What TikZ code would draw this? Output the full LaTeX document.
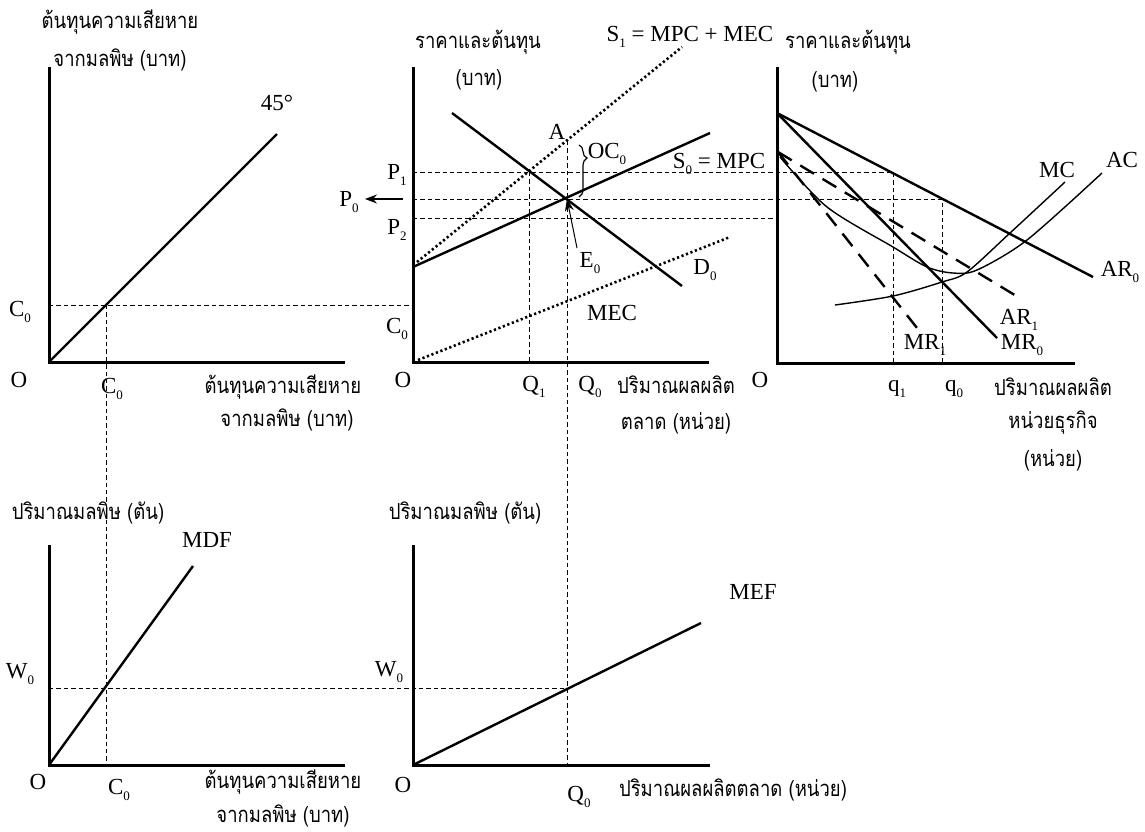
\documentclass[tikz,border=0pt]{standalone}
\usepackage{fontspec}
\setmainfont{Liberation Serif}
\newfontfamily\thaifont[Script=Thai,FakeStretch=0.84]{Loma}
\usetikzlibrary{arrows.meta,decorations.pathreplacing}
\newcommand{\ix}[1]{\raisebox{-3pt}{\fontsize{6.5}{6.5}\selectfont #1}}
\tikzset{
 axis/.style={line width=1.5pt},
 curve/.style={line width=1.2pt},
 fine/.style={line width=0.7pt},
 guide/.style={line width=0.5pt,dash pattern=on 2.2pt off 1.5pt},
 dots/.style={line width=1.3pt,dash pattern=on 1.1pt off 1.3pt},
 longdash/.style={line width=1.2pt,dash pattern=on 8pt off 5pt},
 lbl/.style={inner sep=0pt,font=\fontsize{11.5}{12}\selectfont},
 th/.style={inner sep=0pt,font=\thaifont\fontsize{11}{12}\selectfont}
}
\begin{document}
\begin{tikzpicture}[x=0.5pt,y=-0.5pt,=>stealth]
\useasboundingbox (0,0) rectangle (1145,831);
% key points
\coordinate (Oa) at (49,362);  \coordinate (Ob) at (413,362);  \coordinate (Oc) at (777,363);
\coordinate (Od) at (49,765);  \coordinate (Oe) at (413,765);
\coordinate (Ca) at (106,305); \coordinate (Cb) at (413,305); \coordinate (Cd) at (106,765);
\coordinate (A) at (567,141);  \coordinate (E) at (567,199);   \coordinate (Qone) at (529,172);
\coordinate (Qb) at (529,362); \coordinate (Qe) at (567,765);
\coordinate (qa) at (893,172); \coordinate (qb) at (942,199);
\coordinate (Wd) at (49,688);  \coordinate (We) at (567,688);
\coordinate (Rt) at (777,113); \coordinate (Rs) at (778,152);
% axes
\draw[axis](49,67)--(Oa)--(345,362);
\draw[axis](413,67)--(Ob)--(709,362);
\draw[axis](777,67)--(Oc)--(1075,363);
\draw[axis](49,545)--(Od)--(345,765);
\draw[axis](413,545)--(Oe)--(710,765);
% guides
\draw[guide](49,305)--(Cb);
\draw[guide](Ca)--(Cd);
\draw[guide](A)--(Qe);
\draw[guide](Qone)--(Qb);
\draw[guide](413,172)--(qa)--(893,363);
\draw[guide](413,199)--(qb)--(942,363);
\draw[guide](413,218)--(777,218);
\draw[guide](Wd)--(We);
% curves
\draw[curve](Oa)--(277,134);
\draw[curve](452,113)--(682,286);
\draw[curve](413,267)--(710,133);
\draw[dots](417,262)--(682,47);
\draw[dots](418,360)--(730,237);
\draw[curve](Rt)--(1093,277);
\draw[curve](Rt)--(997,338);
\draw[longdash](Rs)--(1018,297);
\draw[longdash](Rs)--(921,333);
\draw[fine]plot[smooth]coordinates{(780,157)(827,207)(893,247)(927,267)(953,273)(977,270)(1027,240)(1102,173)};
\draw[fine]plot[smooth]coordinates{(835,305)(893,296)(942,282)(967,272)(1010,233)(1065,182)};
\draw[curve](Od)--(193,566);
\draw[curve](Oe)--(701,623);
% arrows and brace
\draw[-{Stealth[length=6pt,width=4.5pt]},line width=0.6pt](403,199)--(365,199);
\draw[-{Stealth[length=6pt,width=4.5pt]},line width=0.5pt](577,248)--(E);
\draw[line width=0.6pt,decorate,decoration={brace,amplitude=4pt,aspect=0.25}](579,145)--(579,197);
% labels, top left
\draw(120,22)node[th](ta1){ต้นทุนความเสียหาย}
(120,60)node[th](ta2){จากมลพิษ (บาท)}
(277,103)node[lbl](l45){45°}
(20,312)node[lbl](lCa){C\ix{0}}
(19,380)node[lbl](lOa){O}
(112,389)node[lbl](lCx){C\ix{0}}
(283,387)node[th](xa1){ต้นทุนความเสียหาย}
(287,420)node[th](xa2){จากมลพิษ (บาท)};
% labels, top middle
\draw(478,42)node[th](tb1){ราคาและต้นทุน}
(479,80)node[th](tb2){(บาท)}
(690,37)node[lbl](lS1){S\ix{1} = MPC + MEC}
(557,132)node[lbl](lA){A}
(607,154)node[lbl](lOC){OC\ix{0}}
(719,164)node[lbl](lS0){S\ix{0} = MPC}
(397,175)node[lbl](lP1){P\ix{1}}
(349,202)node[lbl](lP0){P\ix{0}}
(397,230)node[lbl](lP2){P\ix{2}}
(590,263)node[lbl](lE){E\ix{0}}
(705,270)node[lbl](lD){D\ix{0}}
(612,313)node[lbl](lMEC){MEC}
(397,329)node[lbl](lCb){C\ix{0}}
(403,380)node[lbl](lOb){O}
(534,387)node[lbl](lQ1){Q\ix{1}}
(590,387)node[lbl](lQ0){Q\ix{0}}
(676,385)node[th](xb1){ปริมาณผลผลิต}
(676,423)node[th](xb2){ตลาด (หน่วย)};
% labels, top right
\draw(848,42)node[th](tc1){ราคาและต้นทุน}
(835,82)node[th](tc2){(บาท)}
(1057,170)node[lbl](lMC){MC}
(1122,160)node[lbl](lAC){AC}
(1120,272)node[lbl](lAR0){AR\ix{0}}
(1019,320)node[lbl](lAR1){AR\ix{1}}
(925,345)node[lbl](lMR1){MR\ix{1}}
(1022,345)node[lbl](lMR0){MR\ix{0}}
(760,380)node[lbl](lOc){O}
(897,389)node[lbl](lq1){q\ix{1}}
(954,389)node[lbl](lq0){q\ix{0}}
(1053,387)node[th](xc1){ปริมาณผลผลิต}
(1053,423)node[th](xc2){หน่วยธุรกิจ}
(1053,460)node[th](xc3){(หน่วย)};
% labels, bottom
\draw(88,513)node[th](td1){ปริมาณมลพิษ (ตัน)}
(207,540)node[lbl](lMDF){MDF}
(20,674)node[lbl](lWd){W\ix{0}}
(38,782)node[lbl](lOd){O}
(119,790)node[lbl](lCd){C\ix{0}}
(283,782)node[th](xd1){ต้นทุนความเสียหาย}
(283,816)node[th](xd2){จากมลพิษ (บาท)}
(465,513)node[th](te1){ปริมาณมลพิษ (ตัน)}
(753,592)node[lbl](lMEF){MEF}
(389,672)node[lbl](lWe){W\ix{0}}
(403,785)node[lbl](lOe){O}
(579,797)node[lbl](lQe){Q\ix{0}}
(733,790)node[th](xe1){ปริมาณผลผลิตตลาด (หน่วย)};
\end{tikzpicture}
\end{document}
